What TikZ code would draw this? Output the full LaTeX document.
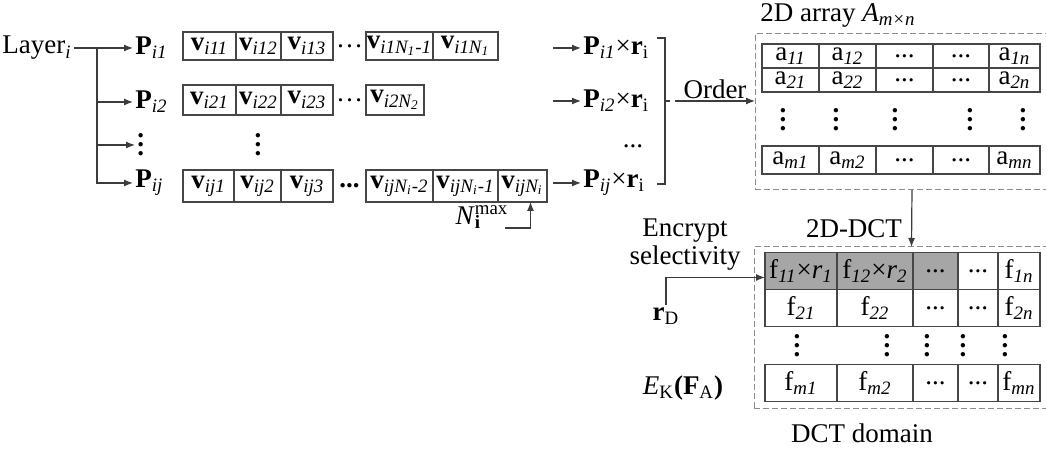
\documentclass[tikz,border=0pt]{standalone}
\usepackage{fontspec}
\setmainfont{Liberation Serif}
\usetikzlibrary{arrows.meta, positioning}
\definecolor{linegray}{RGB}{60,60,60}
\definecolor{boxgray}{RGB}{70,70,70}
\definecolor{framegray}{RGB}{140,140,140}
\definecolor{shadegray}{RGB}{166,166,166}
\newcommand{\sbi}[1]{\textsubscript{\itshape #1}}
\newcommand{\sbr}[1]{\textsubscript{#1}}
\newcommand{\vdotsb}{\vbox{\baselineskip4.5pt\lineskiplimit0pt\hbox{\textbf{.}}\hbox{\textbf{.}}\hbox{\textbf{.}}}}
\newcommand{\cdotsb}{...}

\begin{document}
\begin{tikzpicture}[
    x=0.5pt, y=-0.5pt,
    every node/.style={font=\fontsize{13.5}{14}\selectfont},
    cell/.style={draw=boxgray, line width=0.6pt, inner sep=0pt, outer sep=0pt, minimum height=15pt},
    cw/.style={minimum width=#1*0.5pt},
    ch/.style={minimum height=#1*0.5pt},
    gap/.style={inner sep=0pt, outer sep=0pt, minimum height=15pt},
    lbl/.style={inner sep=1pt},
    arrow/.style={-{Latex[length=4.5pt, width=3.5pt]}, draw=linegray, line width=0.6pt},
    line/.style={draw=linegray, line width=0.6pt},
    frame/.style={draw=framegray, dash pattern=on 3pt off 1.5pt, line width=0.5pt, inner sep=0pt, outer sep=0pt},
    shade/.style={fill=shadegray}
]
    \useasboundingbox (0,0) rectangle (1046,453);

    % Layer and its parameter groups
    \node[lbl, anchor=east] (layer) at (74,48) {Layer\sbi{i}};
    \node[lbl, anchor=west] (pi1) at (133,48) {\textbf{P}\sbi{i1}};
    \node[lbl, anchor=west] (pi2) at (133,102) {\textbf{P}\sbi{i2}};
    \node[lbl, anchor=west] (pid) at (135,145) {\vdotsb};
    \node[lbl, anchor=west] (pij) at (133,183) {\textbf{P}\sbi{ij}};
    \coordinate (br) at (97,48);

    % Row i1
    \node[cell, cw=53, ch=28, anchor=west] (v11) at (183,46) {\textbf{v}\sbi{i11}};
    \node[cell, cw=45, ch=28, right=0pt of v11] (v12) {\textbf{v}\sbi{i12}};
    \node[cell, cw=52, ch=28, right=0pt of v12] (v13) {\textbf{v}\sbi{i13}};
    \node[gap, cw=33, right=0pt of v13] (v1d) {\ldots};
    \node[cell, cw=67, ch=28, right=0pt of v1d] (v1m) {\textbf{v}\sbi{i1N\textsubscript{1}-1}};
    \node[cell, cw=65, ch=28, right=0pt of v1m] (v1n) {\textbf{v}\sbi{i1N\textsubscript{1}}};

    % Row i2
    \node[cell, cw=53, ch=30, anchor=west] (v21) at (183,100) {\textbf{v}\sbi{i21}};
    \node[cell, cw=45, ch=30, right=0pt of v21] (v22) {\textbf{v}\sbi{i22}};
    \node[cell, cw=52, ch=30, right=0pt of v22] (v23) {\textbf{v}\sbi{i23}};
    \node[gap, cw=33, right=0pt of v23] (v2d) {\ldots};
    \node[cell, cw=58, ch=30, right=0pt of v2d] (v2n) {\textbf{v}\sbi{i2N\textsubscript{2}}};

    \node[lbl] (vd) at (258,145) {\vdotsb};

    % Row ij
    \node[cell, cw=51, ch=32, anchor=west] (vj1) at (183,186) {\textbf{v}\sbi{ij1}};
    \node[cell, cw=47, ch=32, right=0pt of vj1] (vj2) {\textbf{v}\sbi{ij2}};
    \node[cell, cw=52, ch=32, right=0pt of vj2] (vj3) {\textbf{v}\sbi{ij3}};
    \node[gap, cw=33, right=0pt of vj3] (vjd) {\textbf{...}};
    \node[cell, cw=67, ch=32, right=0pt of vjd] (vjl) {\textbf{v}\sbi{ijN\textsubscript{i}-2}};
    \node[cell, cw=65, ch=32, right=0pt of vjl] (vjm) {\textbf{v}\sbi{ijN\textsubscript{i}-1}};
    \node[cell, cw=49, ch=32, right=0pt of vjm] (vjn) {\textbf{v}\sbi{ijN\textsubscript{i}}};

    \node[lbl] (nmax) at (482,217) {\textit{N}\rlap{\textsubscript{\textbf{i}}}\textsuperscript{max}};
    \coordinate (nm) at (505,228);

    % Products with r_i
    \coordinate (s1) at (553,48);
    \coordinate (s2) at (553,101);
    \coordinate (sj) at (553,183);
    \node[lbl, anchor=west] (q1) at (581,48) {\textbf{P}\sbi{i1}×\textbf{r}\sbr{i}};
    \node[lbl, anchor=west] (q2) at (581,101) {\textbf{P}\sbi{i2}×\textbf{r}\sbr{i}};
    \node[lbl] (qd) at (633,146) {\cdotsb};
    \node[lbl, anchor=west] (qj) at (581,183) {\textbf{P}\sbi{ij}×\textbf{r}\sbr{i}};

    \coordinate (bt) at (665,38);
    \coordinate (bm) at (665,101);
    \coordinate (bb) at (665,184);
    \coordinate (ord) at (675,101);

    % 2D array
    \node[frame, anchor=north west, minimum width=147.5pt, minimum height=78pt] (abox) at (755,34) {};
    \node[lbl] (atitle) at (838,15) {2D array \textit{A}\textsubscript{\itshape m×n}};

    \node[cell, cw=57, ch=24, anchor=west] (a11) at (762,56) {a\sbi{11}};
    \node[cell, cw=57, ch=24, right=0pt of a11] (a12) {a\sbi{12}};
    \node[cell, cw=57, ch=24, right=0pt of a12] (a13) {\cdotsb};
    \node[cell, cw=56, ch=24, right=0pt of a13] (a14) {\cdotsb};
    \node[cell, cw=51, ch=24, right=0pt of a14] (a1n) {a\sbi{1n}};

    \node[cell, cw=57, ch=24, below=0pt of a11] (a21) {a\sbi{21}};
    \node[cell, cw=57, ch=24, right=0pt of a21] (a22) {a\sbi{22}};
    \node[cell, cw=57, ch=24, right=0pt of a22] (a23) {\cdotsb};
    \node[cell, cw=56, ch=24, right=0pt of a23] (a24) {\cdotsb};
    \node[cell, cw=51, ch=24, right=0pt of a24] (a2n) {a\sbi{2n}};

    \node[lbl] (ad1) at (783,120) {\vdotsb};
    \node[lbl] (ad2) at (836,120) {\vdotsb};
    \node[lbl] (ad3) at (895,120) {\vdotsb};
    \node[lbl] (ad4) at (970,120) {\vdotsb};
    \node[lbl] (ad5) at (1023,120) {\vdotsb};

    \node[cell, cw=57, ch=28, anchor=west] (am1) at (762,160) {a\sbi{m1}};
    \node[cell, cw=57, ch=28, right=0pt of am1] (am2) {a\sbi{m2}};
    \node[cell, cw=57, ch=28, right=0pt of am2] (am3) {\cdotsb};
    \node[cell, cw=56, ch=28, right=0pt of am3] (am4) {\cdotsb};
    \node[cell, cw=51, ch=28, right=0pt of am4] (amn) {a\sbi{mn}};

    % DCT domain
    \node[frame, anchor=north west, minimum width=148pt, minimum height=81pt] (fbox) at (754,247) {};
    \node[lbl] (dct) at (854,229) {2D-DCT};

    \node[cell, shade, cw=72, ch=37, anchor=west] (f11) at (765,271) {f\sbi{11}×\textit{r}\sbi{1}};
    \node[cell, shade, cw=76, ch=37, right=0pt of f11] (f12) {f\sbi{12}×\textit{r}\sbi{2}};
    \node[cell, shade, cw=45, ch=37, right=0pt of f12] (f13) {\cdotsb};
    \node[cell, cw=40, ch=37, right=0pt of f13] (f14) {\cdotsb};
    \node[cell, cw=42, ch=37, right=0pt of f14] (f1n) {f\sbi{1n}};

    \node[cell, cw=72, ch=37, below=0pt of f11] (f21) {f\sbi{21}};
    \node[cell, cw=76, ch=37, right=0pt of f21] (f22) {f\sbi{22}};
    \node[cell, cw=45, ch=37, right=0pt of f22] (f23) {\cdotsb};
    \node[cell, cw=40, ch=37, right=0pt of f23] (f24) {\cdotsb};
    \node[cell, cw=42, ch=37, right=0pt of f24] (f2n) {f\sbi{2n}};

    \node[lbl] (fd1) at (797,346) {\vdotsb};
    \node[lbl] (fd2) at (887,346) {\vdotsb};
    \node[lbl] (fd3) at (927,346) {\vdotsb};
    \node[lbl] (fd4) at (963,346) {\vdotsb};
    \node[lbl] (fd5) at (1005,346) {\vdotsb};

    \node[cell, cw=72, ch=37, anchor=west] (fm1) at (765,383) {f\sbi{m1}};
    \node[cell, cw=76, ch=37, right=0pt of fm1] (fm2) {f\sbi{m2}};
    \node[cell, cw=45, ch=37, right=0pt of fm2] (fm3) {\cdotsb};
    \node[cell, cw=40, ch=37, right=0pt of fm3] (fm4) {\cdotsb};
    \node[cell, cw=42, ch=37, right=0pt of fm4] (fmn) {f\sbi{mn}};

    \node[lbl, align=center] (enc) at (685,245) {Encrypt\\selectivity};
    \node[lbl] (rd) at (666,316) {\textbf{r}\sbr{D}};
    \node[lbl] (ek) at (683,388) {\textit{E}\sbr{K}\textbf{(F}\sbr{A}\textbf{)}};
    \node[lbl] (dom) at (862,433) {DCT domain};

    % Arrows
    \draw[arrow] (layer) -- (pi1);
    \draw[arrow] (br) |- (pi2);
    \draw[arrow] (br) |- (pid);
    \draw[arrow] (br) |- (pij);
    \draw[arrow] (nm) -| ([xshift=4pt]vjn.south);
    \draw[arrow] (s1) -- (q1);
    \draw[arrow] (s2) -- (q2);
    \draw[arrow] (sj) -- (qj);
    \draw[line] ([xshift=-4pt]bt) -- (bt) -- (bb) -- ([xshift=-4pt]bb);
    \draw[line] (bm) -- ++(5,0);
    \draw[arrow] (ord) -- (ord -| abox.west) node[midway, above, lbl] (ordlbl) {Order};
    \draw[arrow] ([xshift=4.75pt]abox.south) -- ([xshift=4.75pt]fbox.north);
    \draw[arrow] (rd.north) |- ([yshift=-3.25pt]f11.west);

\end{tikzpicture}
\end{document}
